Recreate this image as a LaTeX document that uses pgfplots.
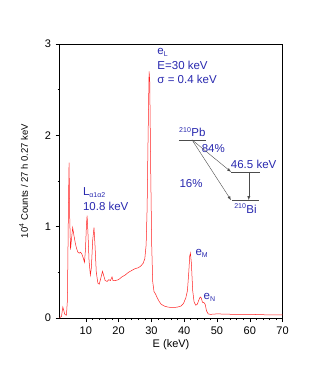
\documentclass[border=0pt]{standalone}
\usepackage{fontspec}
\setmainfont{Liberation Sans}
\usepackage{pgfplots}
\pgfplotsset{compat=1.18}
\begin{document}
\definecolor{labelblue}{RGB}{40,40,175}
\definecolor{specred}{RGB}{255,30,30}
\begin{tikzpicture}
\useasboundingbox (-54pt,-64pt) rectangle (273pt,318pt);
\begin{axis}[
    at={(0,0)}, anchor=south west,
    scale only axis,
    width=223pt, height=274pt,
    xmin=2, xmax=70, ymin=0, ymax=3,
    xtick={10,20,...,70}, ytick={0,1,2,3},
    minor x tick num=4, minor y tick num=1,
    xtick pos=bottom, ytick pos=left,
    tick align=outside,
    major tick length=4pt, minor tick length=2pt,
    axis line style={line width=0.7pt},
    tick style={line width=0.5pt, black},
    /pgf/number format/assume math mode=true,
    ticklabel style={font=\fontsize{11}{13}\selectfont},
    xticklabel style={yshift=-1pt},
    yticklabel style={xshift=-1pt},
    xlabel={E (keV)},
    ylabel={10\textsuperscript{4} Counts / 27 h 0.27 keV},
    xlabel style={at={(axis description cs:0.5,-0.0985)}, anchor=center, font=\fontsize{11}{13}\selectfont},
    ylabel style={at={(axis description cs:-0.161,0.5)}, anchor=center, font=\fontsize{9.5}{11}\selectfont},
    clip=false,
]
\addplot[specred, line width=0.5pt] coordinates {
(2.0,0)(2.6,0.02)(3.0,0.12)(3.3,0.08)(3.6,0.04)(4.1,0.03)(4.4,0.2)(4.7,1.2)(4.9,1.70)(5.1,1.1)
(5.35,0.75)(5.6,0.85)(6.0,0.99)(6.4,0.9)(6.8,0.82)(7.2,0.76)(7.6,0.72)(8.0,0.71)(8.4,0.72)(8.8,0.70)
(9.2,0.66)(9.6,0.61)(9.9,0.75)(10.2,1.02)(10.4,1.12)(10.7,0.9)(11.0,0.62)(11.4,0.47)(11.7,0.55)(12.1,0.85)
(12.5,0.99)(12.8,0.8)(13.2,0.5)(13.7,0.38)(14.1,0.37)(14.6,0.44)(15.1,0.51)(15.5,0.46)(15.9,0.41)(16.5,0.40)
(17.0,0.42)(17.5,0.41)(18.0,0.45)(18.3,0.41)(19,0.41)(20,0.42)(21,0.45)(22,0.47)(23,0.50)(24,0.52)
(25,0.54)(26,0.55)(26.8,0.57)(27.5,0.60)(28.0,0.65)(28.4,0.80)(28.7,1.2)(29.0,2.0)(29.3,2.70)(29.5,2.6)
(29.8,1.6)(30.1,0.8)(30.4,0.40)(30.8,0.29)(31.3,0.26)(31.8,0.22)(32.4,0.18)(33,0.15)(34,0.13)(35,0.12)
(36,0.115)(37,0.115)(38,0.12)(39,0.13)(39.8,0.16)(40.5,0.22)(41.0,0.30)(41.4,0.50)(41.7,0.68)(41.9,0.71)
(42.2,0.60)(42.6,0.30)(43.0,0.18)(43.5,0.14)(44.0,0.15)(44.5,0.20)(44.9,0.23)(45.2,0.22)(45.6,0.17)(46.0,0.17)
(46.4,0.15)(46.8,0.08)(47.3,0.045)(48,0.04)(50,0.045)(55,0.04)(60,0.04)(65,0.035)(70,0.035)
};
% annotations
\begin{scope}[every node/.style={text=labelblue, font=\fontsize{11.5}{14.5}\selectfont, inner sep=0pt}]
\node[anchor=north west, align=left] at (axis cs:31.8,2.95)
  {e\textsubscript{\scriptsize L}\\E=30 keV\\σ = 0.4 keV};
\node[anchor=north west, align=left] at (axis cs:9.1,1.43)
  {L\textsubscript{\scriptsize α1α2}\\10.8 keV};
\node[anchor=base west] at (axis cs:43.4,0.685) {e\textsubscript{\scriptsize M}};
\node[anchor=base west] at (axis cs:45.9,0.205) {e\textsubscript{\scriptsize N}};
% decay scheme
\node[anchor=south] at (axis cs:42.5,1.98) {\textsuperscript{\scriptsize 210}Pb};
\node[anchor=south west] at (axis cs:54.2,1.63) {46.5 keV};
\node[anchor=north] at (axis cs:58.7,1.25) {\textsuperscript{\scriptsize 210}Bi};
\node at (axis cs:48.9,1.86) {84\%};
\node at (axis cs:42.1,1.47) {16\%};
\end{scope}
\draw[black!70, line width=0.6pt] (axis cs:38.4,1.95) -- (axis cs:46.7,1.95);
\draw[black!70, line width=0.6pt] (axis cs:54.4,1.60) -- (axis cs:63.0,1.60);
\draw[black!70, line width=0.6pt] (axis cs:54.7,1.29) -- (axis cs:62.7,1.29);
\draw[black!70, line width=0.4pt, -latex] (axis cs:42.4,1.95) -- (axis cs:54.3,1.60);
\draw[black!70, line width=0.4pt, -latex] (axis cs:42.4,1.95) -- (axis cs:54.3,1.29);
\draw[black!70, line width=0.4pt, -latex] (axis cs:59.7,1.60) -- (axis cs:59.7,1.29);
\end{axis}
\end{tikzpicture}
\end{document}
